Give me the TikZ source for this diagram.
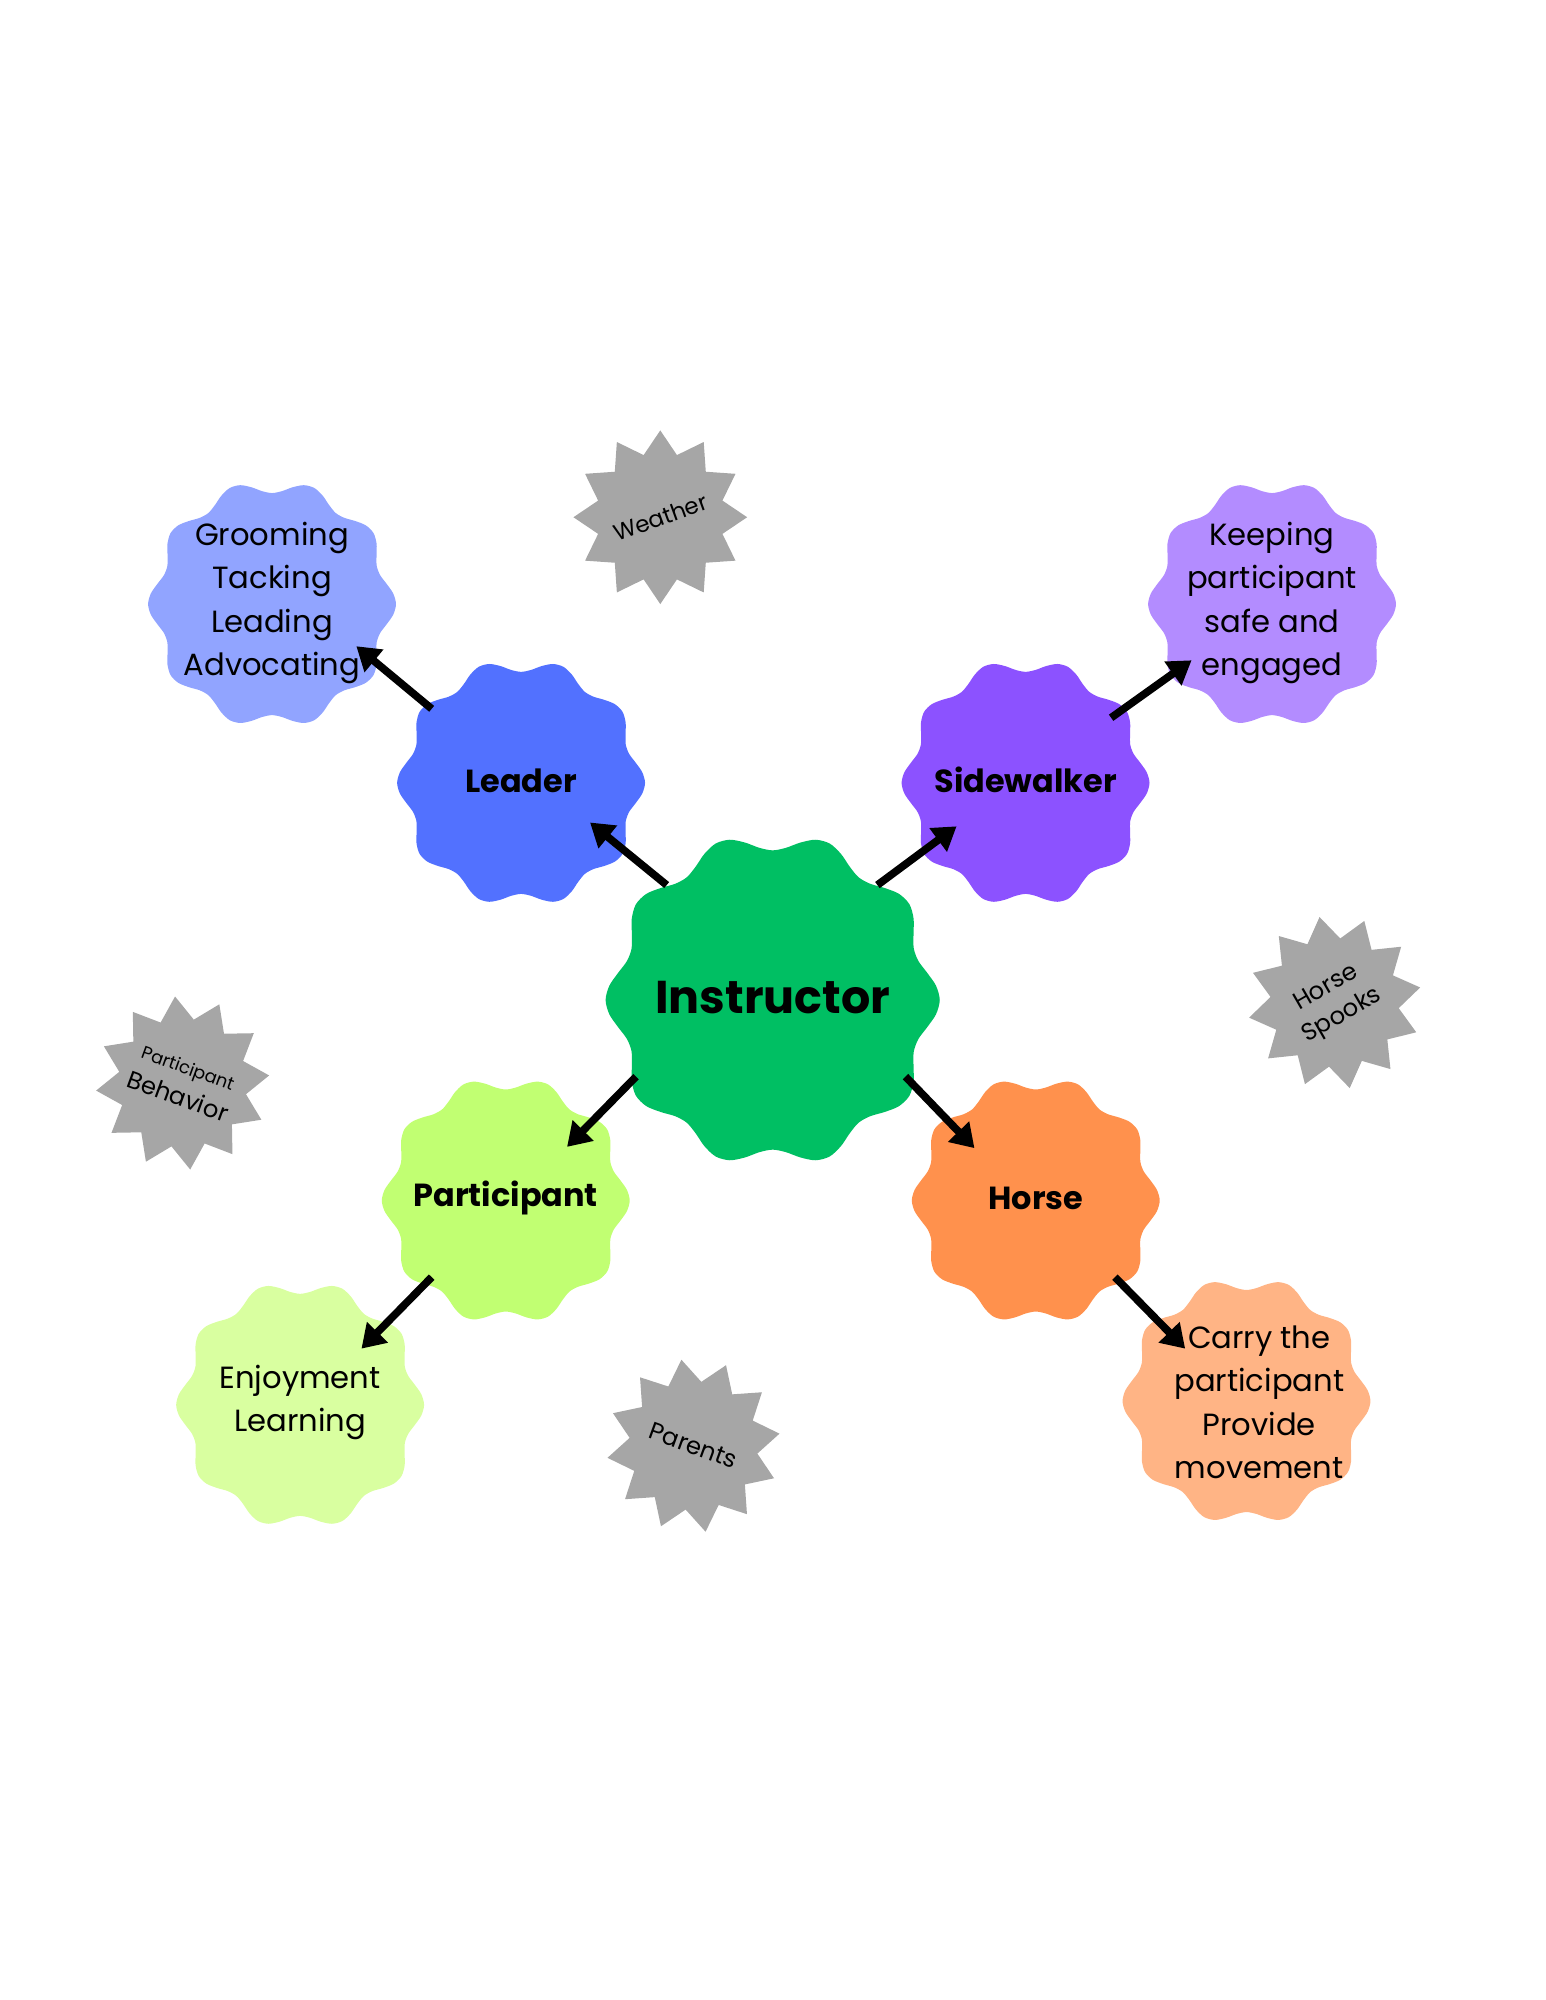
\documentclass[tikz,border=0pt]{standalone}
\usepackage{fontspec}
\setmainfont{Poppins}
\usetikzlibrary{shapes.geometric,arrows.meta}
\newcommand{\blobshape}[5]{%
 \fill[#4] plot[smooth cycle, domain=0:355, samples=72, variable=\t]
  ({#1+#3*(1+0.055*cos(10*\t+#5))*cos(\t)},{#2+#3*(1+0.055*cos(10*\t+#5))*sin(\t)});}
\definecolor{cInst}{HTML}{00BF63}
\definecolor{cLead}{HTML}{5271FF}
\definecolor{cSide}{HTML}{8C52FF}
\definecolor{cPart}{HTML}{C1FF72}
\definecolor{cHorse}{HTML}{FF914D}
\definecolor{cLeadL}{HTML}{91A4FF}
\definecolor{cSideL}{HTML}{B38CFF}
\definecolor{cPartL}{HTML}{D9FFA0}
\definecolor{cHorseL}{HTML}{FFB485}
\definecolor{cStar}{HTML}{A6A6A6}
\begin{document}
\begin{tikzpicture}[x=0.5pt,y=-0.5pt,
 lbl/.style={font=\fontsize{12}{17}\selectfont, align=center, text=black},
 blbl/.style={font=\fontsize{12.5}{17}\selectfont\bfseries, text=black},
 starbox/.style={star, star points=12, star point ratio=1.35, fill=cStar, minimum size=#1, inner sep=0pt},
 arr/.style={line width=3pt, -{Triangle[length=9pt,width=11pt]}}]
\useasboundingbox (0,0) rectangle (1210,1566);
\blobshape{605}{783}{124}{cInst}{0}
\blobshape{408}{613}{92}{cLead}{0}
\blobshape{803}{613}{92}{cSide}{0}
\blobshape{396}{940}{92}{cPart}{0}
\blobshape{811}{940}{92}{cHorse}{0}
\blobshape{213}{473}{92}{cLeadL}{0}
\blobshape{996}{473}{92}{cSideL}{0}
\blobshape{235}{1100}{92}{cPartL}{0}
\blobshape{976}{1097}{92}{cHorseL}{0}
\node[starbox=68pt] (sw) at (517,405) {};
\node[starbox=68pt, rotate=10] (sh) at (1045,785) {};
\node[starbox=68pt, rotate=5] (sp) at (143,848) {};
\node[starbox=68pt, rotate=8] (spa) at (543,1132) {};
\node[rotate=20, font=\fontsize{9}{10}\selectfont] at (sw) {Weather};
\node[rotate=30, align=center, font=\fontsize{9.5}{12.5}\selectfont] at (sh) {Horse\\Spooks};
\node[rotate=-20, align=center, font=\fontsize{9.5}{12.5}\selectfont] at (sp) {{\fontsize{7}{9}\selectfont Participant}\\Behavior};
\node[rotate=-20, font=\fontsize{9.5}{10}\selectfont] at (spa) {Parents};
\node[font=\fontsize{18}{20}\selectfont\bfseries] (inst) at (605,781) {Instructor};
\node[blbl] (lead) at (408,611) {Leader};
\node[blbl] (side) at (803,611) {Sidewalker};
\node[blbl] (part) at (396,938) {Participant};
\node[blbl] (horse) at (811,938) {Horse};
\node[lbl] (groom) at (213,472) {Grooming\\Tacking\\Leading\\Advocating};
\node[lbl] (keep) at (996,472) {Keeping\\participant\\safe and\\engaged};
\node[lbl] (enjoy) at (235,1098) {Enjoyment\\Learning};
\node[lbl] (carry) at (986,1098) {Carry the\\participant\\Provide\\movement};
\coordinate (a1) at (522,693); \coordinate (b1) at (462,644);
\coordinate (a2) at (687,693); \coordinate (b2) at (749,647);
\coordinate (a3) at (498,843); \coordinate (b3) at (444,898);
\coordinate (a4) at (709,843); \coordinate (b4) at (763,899);
\coordinate (a5) at (338,555); \coordinate (b5) at (279,506);
\coordinate (a6) at (870,562); \coordinate (b6) at (933,517);
\coordinate (a7) at (338,1000); \coordinate (b7) at (283,1056);
\coordinate (a8) at (873,1000); \coordinate (b8) at (928,1056);
\foreach \i in {1,...,8} {\draw[arr] (a\i) -- (b\i);}
\end{tikzpicture}
\end{document}
